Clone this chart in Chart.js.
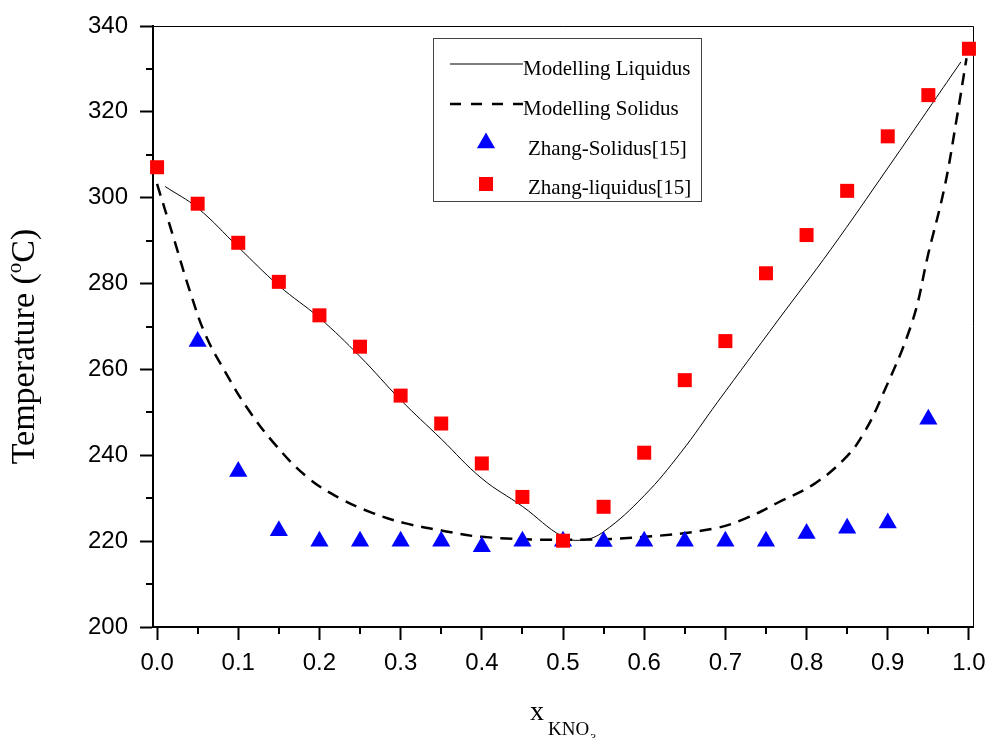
<!DOCTYPE html>
<html>
<head>
<meta charset="utf-8">
<script src="https://cdn.jsdelivr.net/npm/chart.js@4.4.0/dist/chart.umd.min.js"></script>
<style>
  body { margin: 0; background: #fff; }
  #wrap { width: 989px; height: 738px; position: relative; }
</style>
</head>
<body>
<div id="wrap"><canvas id="phaseChart"></canvas></div>
<script>
// axis ticks
const xTicks = [0.0, 0.1, 0.2, 0.3, 0.4, 0.5, 0.6, 0.7, 0.8, 0.9, 1.0];
const xMinorTicks = [0.05, 0.15, 0.25, 0.35, 0.45, 0.55, 0.65, 0.75, 0.85, 0.95];
const yTicks = [200, 220, 240, 260, 280, 300, 320, 340];
const yMinorTicks = [210, 230, 250, 270, 290, 310, 330];

// Zhang experimental data (x KNO3, T in C)
const zhangLiqX = [0, 0.05, 0.1, 0.15, 0.2, 0.25, 0.3, 0.35, 0.4, 0.45, 0.5, 0.55, 0.6, 0.65, 0.7, 0.75, 0.8, 0.85, 0.9, 0.95, 1.0];
const zhangLiqT = [307.1, 298.6, 289.5, 280.4, 272.6, 265.3, 253.9, 247.4, 238.1, 230.3, 220.1, 228.0, 240.6, 257.5, 266.6, 282.4, 291.3, 301.6, 314.3, 323.9, 334.7];
const zhangSolX = [0.05, 0.1, 0.15, 0.2, 0.25, 0.3, 0.35, 0.4, 0.45, 0.5, 0.55, 0.6, 0.65, 0.7, 0.75, 0.8, 0.85, 0.9, 0.95];
const zhangSolT = [266.5, 236.2, 222.4, 220.0, 220.0, 220.0, 220.0, 218.7, 220.0, 220.0, 219.9, 220.0, 220.0, 220.0, 220.0, 221.8, 223.0, 224.2, 248.4];

// modelled curves
const modelLiqX = [0.01, 0.05, 0.10, 0.15, 0.20, 0.25, 0.30, 0.35, 0.40, 0.45, 0.50, 0.525, 0.55, 0.60, 0.645, 0.69, 0.765, 0.83, 0.90, 0.955, 0.99];
const modelLiqT = [302.6, 297.6, 288.5, 279.5, 272.0, 263.0, 252.9, 243.8, 234.6, 228.1, 221.0, 220.3, 222.2, 230.6, 240.6, 252.3, 271.5, 288.0, 306.9, 322.0, 331.6];
const modelSolX = [0.0, 0.02, 0.04, 0.06, 0.085, 0.11, 0.145, 0.185, 0.225, 0.265, 0.305, 0.35, 0.40, 0.50, 0.60, 0.685, 0.725, 0.765, 0.81, 0.85, 0.87, 0.89, 0.93, 0.95, 0.97, 0.985, 0.997];
const modelSolT = [303.2, 290.9, 278.5, 267.9, 259.1, 251.3, 242.6, 234.9, 230.0, 226.6, 224.2, 222.5, 221.0, 220.3, 221.0, 222.9, 225.3, 229.0, 233.4, 239.8, 245.0, 252.5, 271.0, 287.0, 302.5, 318.5, 332.5];

const toPoints = (xs, ys) => xs.map((x, i) => ({ x: x, y: ys[i] }));

const serif = "'Liberation Serif', 'Times New Roman', serif";
const sans = "'Liberation Sans', Arial, sans-serif";

// box, minor ticks, legend and axis titles
const frame = {
  id: 'frame',
  beforeDatasetsDraw(chart) {
    const { ctx, chartArea: a, scales: { x, y } } = chart;
    ctx.save();
    ctx.strokeStyle = '#000';
    ctx.lineWidth = 1;
    ctx.beginPath();
    ctx.moveTo(a.left, a.top + 0.5);
    ctx.lineTo(a.right + 0.5, a.top + 0.5);
    ctx.lineTo(a.right + 0.5, a.bottom);
    ctx.stroke();

    ctx.lineWidth = 2;
    ctx.beginPath();
    xMinorTicks.forEach(v => {
      const px = Math.round(x.getPixelForValue(v));
      ctx.moveTo(px, a.bottom);
      ctx.lineTo(px, a.bottom + 7);
    });
    yMinorTicks.forEach(v => {
      const py = Math.round(y.getPixelForValue(v));
      ctx.moveTo(a.left, py);
      ctx.lineTo(a.left - 7, py);
    });
    ctx.stroke();
    ctx.restore();
  },
  afterDatasetsDraw(chart) {
    const { ctx, chartArea: a } = chart;
    const ds = chart.data.datasets;
    ctx.save();

    // legend
    const lx = a.left + 280, ly = a.top + 12;
    ctx.strokeStyle = '#444';
    ctx.lineWidth = 1;
    ctx.strokeRect(lx + 0.5, ly + 0.5, 268, 163);

    ctx.strokeStyle = '#000';
    ctx.lineWidth = ds[0].borderWidth;
    ctx.beginPath();
    ctx.moveTo(lx + 17, ly + 26); ctx.lineTo(lx + 90, ly + 26);
    ctx.stroke();

    ctx.lineWidth = ds[1].borderWidth;
    ctx.setLineDash([11, 10]);
    ctx.beginPath();
    ctx.moveTo(lx + 17, ly + 66); ctx.lineTo(lx + 90, ly + 66);
    ctx.stroke();
    ctx.setLineDash([]);

    // triangle marker
    const tr = ds[2].pointRadius, tx = lx + 53, ty = ly + 105;
    ctx.fillStyle = ds[2].backgroundColor;
    ctx.beginPath();
    ctx.moveTo(tx, ty - tr);
    ctx.lineTo(tx + tr * Math.sqrt(3) / 2, ty + tr / 2);
    ctx.lineTo(tx - tr * Math.sqrt(3) / 2, ty + tr / 2);
    ctx.closePath();
    ctx.fill();

    // square marker
    const sh = ds[3].pointRadius * Math.SQRT1_2;
    ctx.fillStyle = ds[3].backgroundColor;
    ctx.fillRect(lx + 53 - sh, ly + 146 - sh, 2 * sh, 2 * sh);

    ctx.fillStyle = '#000';
    ctx.font = '21px ' + serif;
    ctx.textBaseline = 'alphabetic';
    ctx.textAlign = 'left';
    ctx.fillText(ds[0].label, lx + 90, ly + 37);
    ctx.fillText(ds[1].label, lx + 90, ly + 77);
    ctx.fillText(ds[2].label, lx + 95, ly + 117);
    ctx.fillText(ds[3].label, lx + 95, ly + 156);

    // y title with superscript o
    ctx.save();
    ctx.translate(34, (a.top + a.bottom) / 2 + 20);
    ctx.rotate(-Math.PI / 2);
    const big = '34px ' + serif, small = '21px ' + serif;
    ctx.font = big;
    const w1 = ctx.measureText('Temperature (').width;
    const w3 = ctx.measureText('C)').width;
    ctx.font = small;
    const w2 = ctx.measureText('o').width;
    let cx = -(w1 + w2 + w3) / 2;
    ctx.font = big;
    ctx.fillText('Temperature (', cx, 0);
    cx += w1;
    ctx.font = small;
    ctx.fillText('o', cx, -13);
    cx += w2;
    ctx.font = big;
    ctx.fillText('C)', cx, 0);
    ctx.restore();

    // x title with subscripts
    ctx.font = '28px ' + serif;
    ctx.fillText('x', 530, 720);
    ctx.font = '19px ' + serif;
    ctx.fillText('KNO', 548, 735);
    const kw = ctx.measureText('KNO').width;
    ctx.font = '12px ' + serif;
    ctx.fillText('3', 548 + kw + 1, 742);

    ctx.restore();
  }
};

new Chart(document.getElementById('phaseChart'), {
  type: 'scatter',
  data: {
    datasets: [
      {
        label: 'Modelling Liquidus',
        data: toPoints(modelLiqX, modelLiqT),
        showLine: true,
        borderColor: '#000',
        borderWidth: 1,
        pointRadius: 0,
        tension: 0.4,
        order: 4,
        clip: false
      },
      {
        label: 'Modelling Solidus',
        data: toPoints(modelSolX, modelSolT),
        showLine: true,
        borderColor: '#000',
        borderWidth: 2.5,
        borderDash: [12, 8],
        pointRadius: 0,
        tension: 0.4,
        order: 3,
        clip: false
      },
      {
        label: 'Zhang-Solidus[15]',
        data: toPoints(zhangSolX, zhangSolT),
        pointStyle: 'triangle',
        pointRadius: 10.5,
        backgroundColor: '#0000ff',
        borderWidth: 0,
        order: 2,
        clip: false
      },
      {
        label: 'Zhang-liquidus[15]',
        data: toPoints(zhangLiqX, zhangLiqT),
        pointStyle: 'rect',
        pointRadius: 9.9,
        backgroundColor: '#ff0000',
        borderWidth: 0,
        order: 1,
        clip: false
      }
    ]
  },
  options: {
    responsive: true,
    maintainAspectRatio: false,
    animation: false,
    layout: { padding: { top: 26, right: 16, left: 0, bottom: 0 } },
    plugins: {
      legend: { display: false },
      tooltip: { enabled: false }
    },
    scales: {
      x: {
        type: 'linear',
        min: -0.005,
        max: 1.005,
        afterBuildTicks: s => { s.ticks = xTicks.map(v => ({ value: v })); },
        afterFit: s => { s.height = 111; s.paddingLeft = 0; s.paddingRight = 0; },
        grid: { drawOnChartArea: false, tickLength: 13, tickWidth: 2, tickColor: '#000' },
        border: { color: '#000', width: 2 },
        ticks: {
          color: '#000',
          font: { family: sans, size: 24 },
          padding: 9,
          maxRotation: 0,
          callback: v => v.toFixed(1)
        }
      },
      y: {
        type: 'linear',
        min: 200,
        max: 340,
        afterBuildTicks: s => { s.ticks = yTicks.map(v => ({ value: v })); },
        afterFit: s => { s.width = 153; s.paddingTop = 0; s.paddingBottom = 0; },
        grid: { drawOnChartArea: false, tickLength: 13, tickWidth: 2, tickColor: '#000' },
        border: { color: '#000', width: 2 },
        ticks: {
          color: '#000',
          font: { family: sans, size: 24 },
          padding: 12,
          callback: v => v
        }
      }
    }
  },
  plugins: [frame]
});
</script>
</body>
</html>
